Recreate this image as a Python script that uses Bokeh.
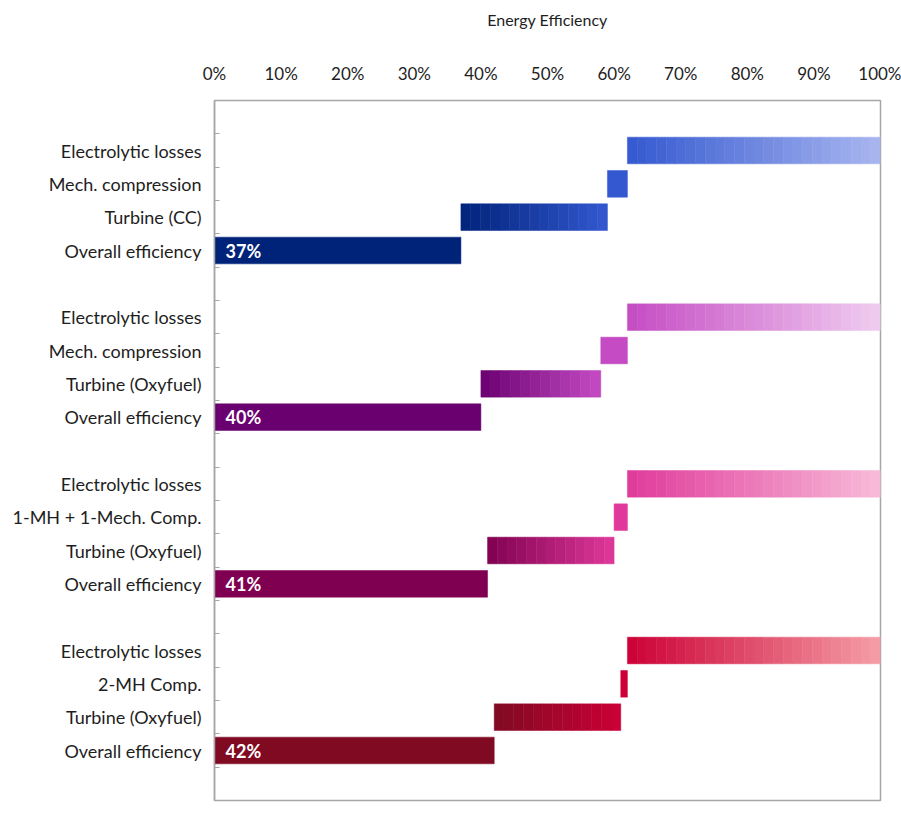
import math
from bokeh.plotting import figure
from bokeh.models import ColumnDataSource, FixedTicker, PrintfTickFormatter, Range1d
from bokeh.core.properties import value
from bokeh.embed import file_html
from bokeh.resources import INLINE

# ---------------- data ----------------
row_labels = [
    "Electrolytic losses", "Mech. compression", "Turbine (CC)", "Overall efficiency",
    "Electrolytic losses", "Mech. compression", "Turbine (Oxyfuel)", "Overall efficiency",
    "Electrolytic losses", "1-MH + 1-Mech. Comp.", "Turbine (Oxyfuel)", "Overall efficiency",
    "Electrolytic losses", "2-MH Comp.", "Turbine (Oxyfuel)", "Overall efficiency",
]
bar_starts = [62, 59, 37, 0, 62, 58, 40, 0, 62, 60, 41, 0, 62, 61, 42, 0]
bar_ends = [100, 62, 59, 37, 100, 62, 58, 40, 100, 62, 60, 41, 100, 62, 61, 42]
overall_values = [37, 40, 41, 42]

start_colors = [
    "#3358d0", "#3358d0", "#00237a", "#00237a",
    "#c54bc4", "#c54bc4", "#6a0070", "#6a0070",
    "#e0399b", "#e0399b", "#7f0050", "#7f0050",
    "#cc0036", "#cc0036", "#7f0a22", "#7f0a22",
]
end_colors = [
    "#a9b6ef", "#3358d0", "#3358d0", "#00237a",
    "#f0cdf0", "#c54bc4", "#c54bc4", "#6a0070",
    "#f8bcd9", "#e0399b", "#e0399b", "#7f0050",
    "#f59ea6", "#cc0036", "#cc0036", "#7f0a22",
]
x_ticks = list(range(0, 101, 10))

ROWS_PER_GROUP = 4
N_SLOTS = 21
FONT = "Lato"
TEXT_COLOR = "#1e1e1e"


def slot_of(i):
    g, j = divmod(i, ROWS_PER_GROUP)
    return 1 + (ROWS_PER_GROUP + 1) * g + j


def y_of(i):
    return (N_SLOTS - 1) - slot_of(i)


def hex2rgb(h):
    h = h.lstrip("#")
    return tuple(int(h[k:k + 2], 16) for k in (0, 2, 4))


def mix(c1, c2, t):
    a, b = hex2rgb(c1), hex2rgb(c2)
    return "#%02x%02x%02x" % tuple(int(round(a[k] + (b[k] - a[k]) * t)) for k in range(3))


# build gradient segments from the arrays
seg = dict(y=[], left=[], right=[], color=[])
for i in range(len(row_labels)):
    s, e = bar_starts[i], bar_ends[i]
    c1, c2 = start_colors[i], end_colors[i]
    n = 1 if c1 == c2 else max(1, math.ceil((e - s) / 1.5))
    w = (e - s) / n
    for k in range(n):
        t = (k + 0.5) / n if n > 1 else 0
        seg["y"].append(y_of(i))
        seg["left"].append(s + k * w)
        seg["right"].append(s + (k + 1) * w)
        seg["color"].append(mix(c1, c2, t))
src = ColumnDataSource(seg)

p = figure(
    output_backend="svg", toolbar_location=None,
    frame_width=666, frame_height=700,
    min_border_left=214, min_border_top=100, min_border_right=21, min_border_bottom=13,
    x_range=Range1d(0, 100), y_range=Range1d(-0.5, N_SLOTS - 0.5),
    x_axis_location="above",
)
p.background_fill_color = "white"
p.border_fill_color = "white"
p.outline_line_color = "#a6a6a6"
p.outline_line_width = 1.5
p.grid.visible = False

p.hbar(y="y", left="left", right="right", height=0.8, source=src,
       fill_color="color", line_color="color", line_width=0.5)

# percentage labels in overall bars
ov_idx = [i for i in range(len(row_labels)) if row_labels[i] == "Overall efficiency"]
lab_src = ColumnDataSource(dict(
    x=[0] * len(ov_idx),
    y=[y_of(i) for i in ov_idx],
    text=["%d%%" % v for v in overall_values],
))
p.text(x="x", y="y", text="text", source=lab_src, x_offset=11,
       text_font=value(FONT), text_font_style="bold", text_font_size="18px",
       text_color="white", text_baseline="middle", text_align="left")

# top x axis
xa = p.xaxis[0]
xa.ticker = FixedTicker(ticks=x_ticks)
xa.formatter = PrintfTickFormatter(format="%d%%")
xa.axis_line_color = None
xa.major_tick_line_color = None
xa.minor_tick_line_color = None
xa.major_tick_in = 0
xa.major_tick_out = 0
xa.major_label_standoff = 17
xa.major_label_text_font = FONT
xa.major_label_text_font_size = "17px"
xa.major_label_text_color = TEXT_COLOR
xa.axis_label = "Energy Efficiency"
xa.axis_label_standoff = 31
xa.axis_label_text_font = FONT
xa.axis_label_text_font_size = "16px"
xa.axis_label_text_font_style = "normal"
xa.axis_label_text_color = TEXT_COLOR

# left y axis: labels at row centres, small ticks at slot boundaries
ya = p.yaxis[0]
centers = [y_of(i) for i in range(len(row_labels))]
ya.ticker = FixedTicker(ticks=centers, minor_ticks=[k + 0.5 for k in range(-1, N_SLOTS)])
ya.major_label_overrides = {y_of(i): row_labels[i] for i in range(len(row_labels))}
ya.axis_line_color = "#a6a6a6"
ya.axis_line_width = 1.5
ya.major_tick_line_color = None
ya.major_tick_in = 0
ya.major_tick_out = 0
ya.minor_tick_line_color = "#a6a6a6"
ya.minor_tick_line_width = 1.2
ya.minor_tick_in = 5
ya.minor_tick_out = 0
ya.major_label_standoff = 13
ya.major_label_text_font = FONT
ya.major_label_text_font_size = "18px"
ya.major_label_text_color = TEXT_COLOR

open("out.html", "w").write(file_html(p, INLINE))
